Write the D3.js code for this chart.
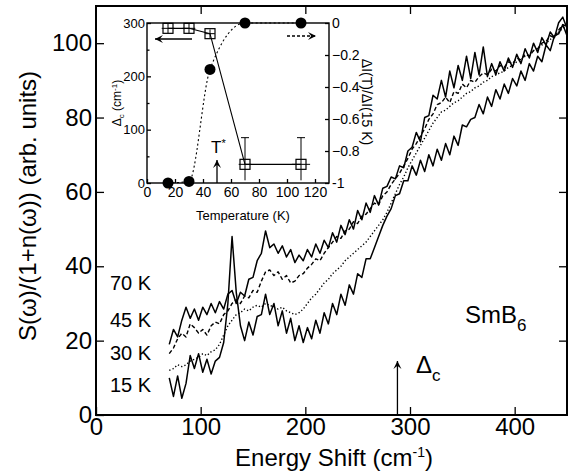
<!DOCTYPE html>
<html>
<head>
<meta charset="utf-8">
<script src="https://cdn.jsdelivr.net/npm/d3@7"></script>
<style>
  body { margin: 0; background: #fff; }
  svg { font-family: "Liberation Sans", Arial, sans-serif; }
</style>
</head>
<body>
<svg width="575" height="474"></svg>
<script>
// energy grid of the Raman spectra (cm-1)
const energy = [70,74,78,82,86,90,94,98,102,106,110,114,118,122,126,130,134,138,142,146,
  150,154,158,162,166,170,174,178,182,186,190,194,198,202,206,210,214,218,222,226,
  230,234,238,242,246,250,254,258,262,266,270,274,278,282,286,290,294,298,302,306,
  310,314,318,322,326,330,334,338,342,346,350,354,358,362,366,370,374,378,382,386,
  390,394,398,402,406,410,414,418,422,426,430,434,438,442,446,450];

// S(w)/(1+n(w))
const s70 = [19,23,21,25.5,29,26,28.5,25.5,29,27,30,27.5,30.5,28.5,32.5,33.5,30,33,32,36.5,
  37,41.5,43.5,49.5,45,46,43.5,45.5,42.5,44.5,41,43,41.5,44.5,42.5,46,43.5,47,45,49,
  46.5,51,48.5,52.5,50,55,52.5,57,54.5,59,56.5,61,61.5,64,63.5,67,66.5,71,72,76,
  73.5,80,80.5,86,85,90,85.5,92.5,88,94,90,96.5,90.5,97.5,91.5,99,91,94.5,91.5,95,
  92.5,96,93.5,97,94.5,98.5,96,100,97.5,101.5,99.5,103,101.5,105.5,107,104];
const s45 = [16.5,18,20.5,22,21,24.5,23.5,22,23,21.5,24,25,24.5,27,28,30,31,30,32,31.5,
  33.5,33,36,38.5,39,37.5,38.5,36.5,37.5,35.5,36,37.5,38,39.5,40.5,42,41.5,43.5,45,46.5,
  48,47.5,49.5,50,52,51.5,53.5,54,55.5,57,56.5,59,60,62,63.5,65,67,69,71.5,73,
  75,77,79.5,81,83.5,84,85.5,84,87,86.5,89,88,90,89.5,91,92,91.5,93,92.5,94,
  93.5,95,94.5,96,95.5,97,96.5,98,98.5,100,100.5,102,101.5,103.5,105,104.5];
const s30 = [12,12.5,13.5,13,13.5,14.5,15,15.5,16.5,16,17,17.5,19,21.5,24,25.5,27,27.5,28.5,28,
  29,29.5,29,30,29.5,29,28.5,29,28,27.5,27,27.5,28.5,30,31.5,32.5,34,35.5,36.5,38,
  39,40,41.5,42.5,43.5,44.5,45.5,46.5,48,49.5,51,52.5,54.5,57,59.5,62,64,66.5,68.5,70.5,
  72.5,74.5,76.5,78.5,80,81.5,82,83,84,84.5,85.5,86.5,87,88,88.5,89.5,90,91,91.5,92,
  92.5,93.5,94,95,95.5,96.5,97,98,98.5,99.5,100,101,102,103,104,105];
const s15 = [10,5,10.5,4.5,8.5,16,12.5,16.5,11.5,15,11,14.5,15.5,19.5,30,48,33,24,20,25,
  21.5,26.5,27,32.5,27,30,24,28,22,26,20,24,19.5,23.5,20.5,25.5,22,27.5,24.5,30,
  27,32.5,29.5,35,32.5,38,37,42,42,45,48,51,53.5,55.5,59,59.5,63,63,67,64.5,
  68.5,65.5,70,67,71.5,68.5,73,70,75,72.5,78,77.5,79.5,80,83.5,81,85.5,83,87.5,85,
  89,86.5,90.5,88.5,92.5,90,94.5,92.5,96.5,95,99.5,98,102,102.5,105,102];

const tempLabels = ["70 K", "45 K", "30 K", "15 K"];
const xTicks = [0, 100, 200, 300, 400];
const yTicks = [0, 20, 40, 60, 80, 100];
const gapEnergy = 288;

// inset: gap and intensity ratio vs temperature
const gapTemps = [15, 30, 45, 70, 110];
const gapValues = [290, 290, 280, 35, 35];
const gapErrUp = [9, 9, 8, 50, 50];
const gapErrDown = [9, 9, 8, 30, 30];
const gapTErr = [4.5, 4.5, 3.5, 4.5, 6.5];
const ratioTemps = [15, 30, 45, 70, 110];
const ratioValues = [-1, -0.99, -0.29, 0, 0];
const insetTempTicks = [0, 20, 40, 60, 80, 100, 120];
const gapTicks = [0, 100, 200, 300];
const gapMinor = [50, 150, 250];
const ratioTicks = [0, -0.2, -0.4, -0.6, -0.8, -1];
const tStar = 50;

const svg = d3.select('svg');

// ---- main panel ----
const L = 96, R = 567, T = 6, B = 415;
const x = d3.scaleLinear().domain([0, 450]).range([L, R]);
const y = d3.scaleLinear().domain([0, 110]).range([B, T]);

const fmtAxis = (g, size) => {
  g.select('.domain').remove();
  g.selectAll('line').attr('stroke', '#000').attr('stroke-width', 1.3);
  g.selectAll('text').attr('font-size', size).attr('fill', '#000')
    .attr('font-family', '"Liberation Sans", Arial, sans-serif');
};

svg.append('g').attr('transform', `translate(0,${B})`)
  .call(d3.axisBottom(x).tickValues(xTicks).tickSize(-8).tickPadding(3))
  .call(g => fmtAxis(g, 24));
svg.append('g').attr('transform', `translate(${L},0)`)
  .call(d3.axisLeft(y).tickValues(yTicks).tickSize(-8).tickPadding(4))
  .call(g => fmtAxis(g, 24));
svg.append('g').attr('transform', `translate(0,${T})`)
  .call(d3.axisTop(x).tickValues(xTicks.slice(1)).tickSize(-8).tickFormat(''))
  .call(g => fmtAxis(g, 0));
svg.append('g').attr('transform', `translate(${R},0)`)
  .call(d3.axisRight(y).tickValues(yTicks.slice(1)).tickSize(-8).tickFormat(''))
  .call(g => fmtAxis(g, 0));

svg.append('rect').attr('x', L).attr('y', T).attr('width', R - L).attr('height', B - T)
  .attr('fill', 'none').attr('stroke', '#000').attr('stroke-width', 2);

const line = d3.line().x(d => x(d[0])).y(d => y(d[1]));
const series = [
  { v: s15, dash: null, w: 1.5 },
  { v: s30, dash: '1.3,2.2', w: 1.4 },
  { v: s45, dash: '4,2.5', w: 1.4 },
  { v: s70, dash: null, w: 1.5 }
];
series.forEach(s => {
  svg.append('path').datum(d3.zip(energy, s.v))
    .attr('d', line).attr('fill', 'none').attr('stroke', '#000')
    .attr('stroke-width', s.w).attr('stroke-linejoin', 'round')
    .attr('stroke-dasharray', s.dash);
});

// temperature labels
svg.selectAll('.tlab').data(tempLabels).enter().append('text')
  .attr('x', 110).attr('y', (d, i) => [290, 327, 360, 392][i])
  .attr('font-size', 20).text(d => d);

// axis titles
svg.append('text').attr('transform', 'translate(36,206) rotate(-90)')
  .attr('text-anchor', 'middle').attr('font-size', 24)
  .text('S(\u03c9)/(1+n(\u03c9))  (arb. units)');
const xt = svg.append('text').attr('x', 334).attr('y', 466)
  .attr('text-anchor', 'middle').attr('font-size', 24);
xt.append('tspan').text('Energy Shift (cm');
xt.append('tspan').attr('font-size', 14).attr('dy', -9).text('-1');
xt.append('tspan').attr('dy', 9).text(')');

// SmB6 label
const sm = svg.append('text').attr('x', 465).attr('y', 323).attr('font-size', 24);
sm.append('tspan').text('SmB');
sm.append('tspan').attr('font-size', 17).attr('dy', 8).text('6');

// arrows
const arrow = (x1, y1, x2, y2, dash) => {
  svg.append('line').attr('x1', x1).attr('y1', y1).attr('x2', x2).attr('y2', y2)
    .attr('stroke', '#000').attr('stroke-width', 1.3).attr('stroke-dasharray', dash || null);
  const a = Math.atan2(y2 - y1, x2 - x1), h = 8, wd = 4;
  const p = [[x2, y2],
    [x2 - h * Math.cos(a) + wd * Math.sin(a), y2 - h * Math.sin(a) - wd * Math.cos(a)],
    [x2 - h * 0.6 * Math.cos(a), y2 - h * 0.6 * Math.sin(a)],
    [x2 - h * Math.cos(a) - wd * Math.sin(a), y2 - h * Math.sin(a) + wd * Math.cos(a)]];
  svg.append('path').attr('d', 'M' + p.join('L') + 'Z').attr('fill', '#000');
};
arrow(x(gapEnergy), B, x(gapEnergy), 361);
const dc = svg.append('text').attr('x', 416).attr('y', 373).attr('font-size', 24);
dc.append('tspan').text('\u0394');
dc.append('tspan').attr('font-size', 17).attr('dy', 8).text('c');

// ---- inset ----
const iL = 147, iR = 329, iT = 23, iB = 183;
const ix = d3.scaleLinear().domain([0, 130]).range([iL, iR]);
const iy = d3.scaleLinear().domain([0, 300]).range([iB, iT]);
const iy2 = d3.scaleLinear().domain([-1, 0]).range([iB, iT]);

svg.append('rect').attr('x', iL).attr('y', iT).attr('width', iR - iL).attr('height', iB - iT)
  .attr('fill', '#fff');

svg.append('g').attr('transform', `translate(0,${iB})`)
  .call(d3.axisBottom(ix).tickValues(insetTempTicks).tickSize(-4).tickPadding(4))
  .call(g => fmtAxis(g, 14));
svg.append('g').attr('transform', `translate(${iL},0)`)
  .call(d3.axisLeft(iy).tickValues(gapTicks).tickSize(-4).tickPadding(2))
  .call(g => fmtAxis(g, 13));
svg.append('g').attr('transform', `translate(${iL},0)`)
  .call(d3.axisLeft(iy).tickValues(gapMinor).tickSize(-2.5).tickFormat(''))
  .call(g => fmtAxis(g, 0));
svg.append('g').attr('transform', `translate(${iR},0)`)
  .call(d3.axisRight(iy2).tickValues(ratioTicks).tickSize(-4).tickPadding(3)
    .tickFormat(d => d === 0 ? '0' : d === -1 ? '-1' : d3.format('.1f')(d)))
  .call(g => fmtAxis(g, 14));

svg.append('rect').attr('x', iL).attr('y', iT).attr('width', iR - iL).attr('height', iB - iT)
  .attr('fill', 'none').attr('stroke', '#000').attr('stroke-width', 1.4);

svg.append('text').attr('x', 243).attr('y', 220).attr('text-anchor', 'middle')
  .attr('font-size', 13).text('Temperature (K)');
const gl = svg.append('text').attr('transform', 'translate(121,103) rotate(-90)')
  .attr('text-anchor', 'middle').attr('font-size', 12);
gl.append('tspan').text('\u0394');
gl.append('tspan').attr('font-size', 8).attr('dy', 3).text('c');
gl.append('tspan').attr('dy', -3).text(' (cm');
gl.append('tspan').attr('font-size', 8).attr('dy', -4).text('-1');
gl.append('tspan').attr('dy', 4).text(')');
svg.append('text').attr('transform', 'translate(362,102) rotate(90)')
  .attr('text-anchor', 'middle').attr('font-size', 14)
  .text('\u0394I(T)/\u0394I(15 K)');

// ratio: dotted line + filled circles
const ratioPts = d3.zip(ratioTemps, ratioValues);
svg.append('path').datum(ratioPts)
  .attr('d', d3.line().x(d => ix(d[0])).y(d => iy2(d[1])).curve(d3.curveMonotoneX))
  .attr('fill', 'none').attr('stroke', '#000').attr('stroke-width', 1.1)
  .attr('stroke-dasharray', '2,2.5');

// gap: solid line, error bars, open squares
const gapPts = d3.zip(gapTemps, gapValues);
svg.append('path').datum(gapPts)
  .attr('d', d3.line().x(d => ix(d[0])).y(d => iy(d[1])))
  .attr('fill', 'none').attr('stroke', '#000').attr('stroke-width', 1.1);
gapPts.forEach((d, i) => {
  const cx = ix(d[0]), cy = iy(d[1]);
  const g = svg.append('g').attr('stroke', '#000').attr('stroke-width', 1);
  g.append('line').attr('x1', cx).attr('x2', cx)
    .attr('y1', iy(d[1] + gapErrUp[i])).attr('y2', iy(d[1] - gapErrDown[i]));
  g.append('line').attr('y1', cy).attr('y2', cy)
    .attr('x1', ix(d[0] - gapTErr[i])).attr('x2', ix(d[0] + gapTErr[i]));
  if (gapErrUp[i] > 20) {
    g.append('line').attr('x1', cx - 4).attr('x2', cx + 4)
      .attr('y1', iy(d[1] + gapErrUp[i])).attr('y2', iy(d[1] + gapErrUp[i]));
  }
  g.append('rect').attr('x', cx - 5).attr('y', cy - 5).attr('width', 10).attr('height', 10)
    .attr('fill', 'none').attr('stroke-width', 1.2);
});

svg.selectAll('.dot').data(ratioPts).enter().append('circle')
  .attr('cx', d => ix(d[0])).attr('cy', d => iy2(d[1])).attr('r', 5.5).attr('fill', '#000');

// inset arrows and T*
arrow(192, 39, 155, 39);
arrow(287, 36, 316, 36, '3,2');
arrow(ix(tStar), iB, ix(tStar), 160);
const ts = svg.append('text').attr('x', 211).attr('y', 153).attr('font-size', 17);
ts.append('tspan').text('T');
ts.append('tspan').attr('font-size', 11).attr('dy', -6).text('*');
</script>
</body>
</html>
